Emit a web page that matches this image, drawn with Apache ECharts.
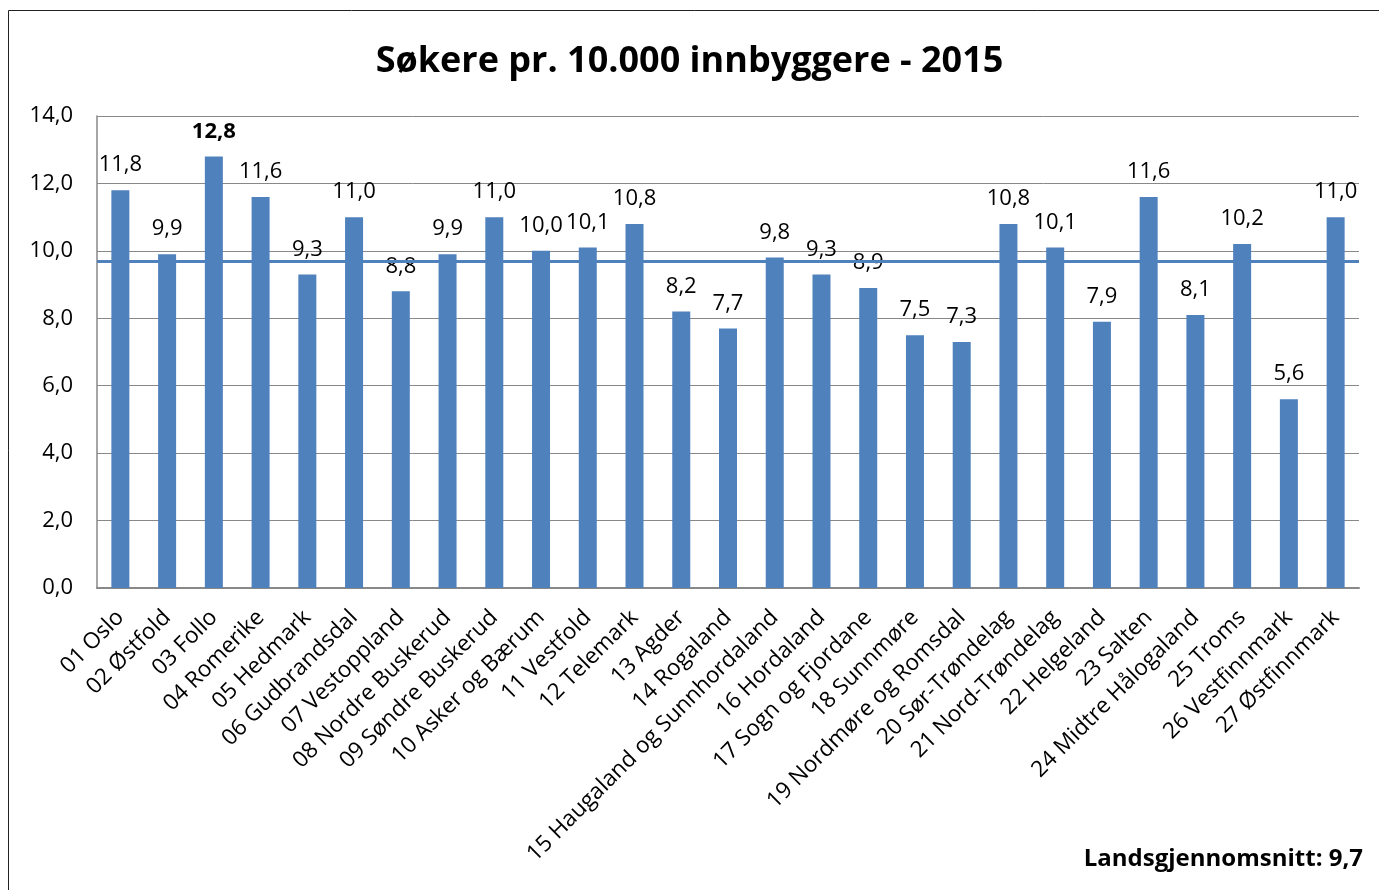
<!DOCTYPE html>
<html lang="no">

<head>
  <meta charset="UTF-8">
  <title>Søkere pr. 10.000 innbyggere - 2015</title>
  <style>
    * {
      margin: 0;
      padding: 0;
    }

    body {
      background: #ffffff;
      overflow: hidden;
    }

    #chart {
      width: 1379px;
      height: 890px;
    }
  </style>
</head>

<body>
  <div id="chart"></div>
  <script src="https://cdn.jsdelivr.net/npm/echarts@6/dist/echarts.min.js"></script>
  <script>
    const regions = [
      '01 Oslo', '02 Østfold', '03 Follo', '04 Romerike', '05 Hedmark',
      '06 Gudbrandsdal', '07 Vestoppland', '08 Nordre Buskerud', '09 Søndre Buskerud',
      '10 Asker og Bærum', '11 Vestfold', '12 Telemark', '13 Agder', '14 Rogaland',
      '15 Haugaland og Sunnhordaland', '16 Hordaland', '17 Sogn og Fjordane',
      '18 Sunnmøre', '19 Nordmøre og Romsdal', '20 Sør-Trøndelag', '21 Nord-Trøndelag',
      '22 Helgeland', '23 Salten', '24 Midtre Hålogaland', '25 Troms',
      '26 Vestfinnmark', '27 Østfinnmark'
    ];
    const applicants = [
      11.8, 9.9, 12.8, 11.6, 9.3, 11.0, 8.8, 9.9, 11.0, 10.0, 10.1, 10.8, 8.2, 7.7,
      9.8, 9.3, 8.9, 7.5, 7.3, 10.8, 10.1, 7.9, 11.6, 8.1, 10.2, 5.6, 11.0
    ];
    const nationalAverage = 9.7;
    const highlighted = '03 Follo';

    const FONT = '"Open Sans", sans-serif';
    const fmt = v => v.toFixed(1).replace('.', ',');

    const chart = echarts.init(document.getElementById('chart'));
    chart.setOption({
      animation: false,
      textStyle: { fontFamily: FONT, color: '#000' },
      title: {
        text: 'Søkere pr. 10.000 innbyggere - 2015',
        left: 'center',
        top: 39,
        textStyle: { fontFamily: FONT, fontSize: 36, fontWeight: 'bold', color: '#000' }
      },
      graphic: [
        {
          type: 'rect',
          shape: { x: 8.5, y: 10.5, width: 1400, height: 900 },
          style: { fill: 'none', stroke: '#222', lineWidth: 1 },
          silent: true
        },
        {
          type: 'text',
          right: 16,
          top: 847,
          style: {
            text: 'Landsgjennomsnitt: ' + fmt(nationalAverage),
            font: 'bold 24px ' + FONT,
            fill: '#000'
          }
        }
      ],
      grid: { left: 97, right: 20, top: 116, bottom: 302 },
      xAxis: {
        type: 'category',
        data: regions,
        axisLine: { lineStyle: { color: '#888', width: 2 } },
        axisTick: { show: false },
        axisLabel: {
          interval: 0,
          rotate: 45,
          margin: 26,
          fontSize: 22.5,
          fontFamily: FONT,
          color: '#000'
        }
      },
      yAxis: {
        type: 'value',
        min: 0,
        max: 14,
        interval: 2,
        axisLine: { show: true, lineStyle: { color: '#888', width: 1.5 } },
        axisTick: { show: false },
        splitLine: { lineStyle: { color: '#888', width: 1 } },
        axisLabel: {
          margin: 24,
          fontSize: 22,
          fontFamily: FONT,
          color: '#000',
          formatter: v => fmt(v)
        }
      },
      series: [
        {
          type: 'bar',
          barWidth: 18,
          itemStyle: { color: '#4F81BD' },
          data: applicants.map((v, i) => ({
            value: v,
            label: regions[i] === highlighted ? { fontWeight: 'bold' } : undefined
          })),
          label: {
            show: true,
            position: 'top',
            distance: 14,
            fontSize: 22,
            fontFamily: FONT,
            color: '#000',
            formatter: p => fmt(p.value)
          },
          markLine: {
            silent: true,
            symbol: 'none',
            label: { show: false },
            lineStyle: { color: '#4F81BD', width: 3, type: 'solid' },
            data: [{ yAxis: nationalAverage }]
          }
        }
      ]
    });
  </script>
</body>

</html>
